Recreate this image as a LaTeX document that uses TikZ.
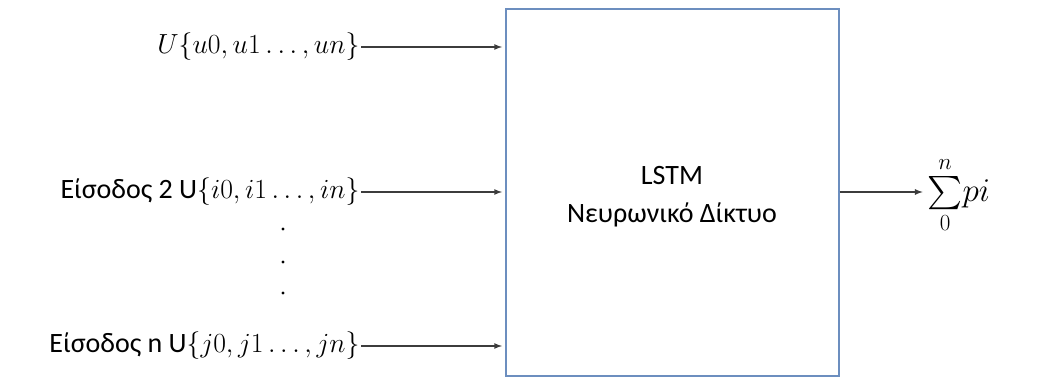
\documentclass[tikz,border=0pt]{standalone}
\usepackage{fontspec}
\setmainfont{Carlito}
\usepackage{amsmath}
\usetikzlibrary{arrows,positioning}
\definecolor{boxblue}{RGB}{108,142,191}
\definecolor{arrowgray}{RGB}{60,60,60}
\begin{document}
\begin{tikzpicture}[x=0.75pt,y=-0.75pt,
  inlabel/.style={anchor=east,inner sep=1pt,font=\fontsize{21}{25}\selectfont},
  flow/.style={-latex,draw=arrowgray,line width=1pt,shorten >=2.5pt},
  netbox/.style={draw=boxblue,line width=1pt,minimum width=249.75pt,minimum height=275.25pt}]
\useasboundingbox (0,0) rectangle (1054,378);
% the network
\node[netbox] (net) at (672.5,192.5) {};
\node[align=center,font=\fontsize{21}{28.5}\selectfont] (netname) at (672,197) {LSTM\\Νευρωνικό Δίκτυο};
% inputs
\node[inlabel] (in1) at (361,47) {$U\{u0,u1\ldots,un\}$};
\node[inlabel] (in2) at (361,192) {Είσοδος 2 $\mathrm{U}\{i0,i1\ldots,in\}$};
\node[inlabel] (inn) at (361,346) {Είσοδος n $\mathrm{U}\{j0,j1\ldots,jn\}$};
\foreach \k/\y in {1/229,2/262,3/293}
  \node[circle,fill=black,inner sep=0pt,minimum size=2.6pt] (dot\k) at (283,\y) {};
\draw[flow] (in1.east) -- (net.west |- in1.east);
\draw[flow] (in2.east) -- (net.west |- in2.east);
\draw[flow] (inn.east) -- (net.west |- inn.east);
% output
\node[anchor=west,inner sep=1pt,font=\fontsize{25}{30}\selectfont] (sum) at (926,195) {$\sum\limits_{0}^{n}\!pi$};
\draw[flow] (net.east |- 0,192) -- (sum.west |- 0,192);
\end{tikzpicture}
\end{document}
